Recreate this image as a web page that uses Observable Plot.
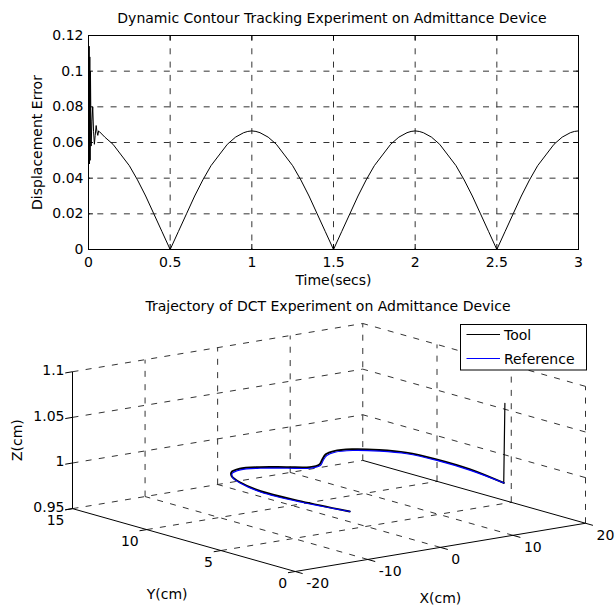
<!DOCTYPE html>
<html><head><meta charset="utf-8">
<script src="https://cdn.jsdelivr.net/npm/d3@7"></script>
<script src="https://cdn.jsdelivr.net/npm/@observablehq/plot@0.6"></script>
<style>
html,body{margin:0;padding:0;background:#fff;}
#wrap{position:relative;width:615px;height:608px;font-family:"DejaVu Sans";}
#wrap svg{display:block;}
</style></head><body><div id="wrap"></div>
<script>
// ---------- Top chart data ----------
const topTitle = "Dynamic Contour Tracking Experiment on Admittance Device";
const topXLabel = "Time(secs)";
const topYLabel = "Displacement Error";
const timeTicks = [0, 0.5, 1, 1.5, 2, 2.5, 3];
const timeTickLabels = ["0", "0.5", "1", "1.5", "2", "2.5", "3"];
const errTicks = [0, 0.02, 0.04, 0.06, 0.08, 0.1, 0.12];
const errTickLabels = ["0", "0.02", "0.04", "0.06", "0.08", "0.1", "0.12"];

const timeSec = [0, 0.002, 0.004, 0.006, 0.008, 0.010, 0.012, 0.016, 0.021, 0.026, 0.031, 0.036, 0.041, 0.047, 0.052, 0.057, 0.062, 0.068,
  0.1, 0.15, 0.2, 0.25, 0.3, 0.35, 0.4, 0.45, 0.5, 0.55, 0.6, 0.65, 0.7, 0.75, 0.8, 0.85, 0.9, 0.95, 0.975,
  1.0, 1.025, 1.05, 1.1, 1.15, 1.2, 1.25, 1.3, 1.35, 1.4, 1.45, 1.5, 1.55, 1.6, 1.65, 1.7, 1.75, 1.8, 1.85, 1.9, 1.95, 1.975,
  2.0, 2.025, 2.05, 2.1, 2.15, 2.2, 2.25, 2.3, 2.35, 2.4, 2.45, 2.5, 2.55, 2.6, 2.65, 2.7, 2.75, 2.8, 2.85, 2.9, 2.95, 2.975, 3.0];
const dispErr = [0.118, 0.049, 0.114, 0.048, 0.108, 0.050, 0.100, 0.058, 0.072, 0.080, 0.066, 0.059, 0.064, 0.0695, 0.066, 0.064, 0.0665, 0.066,
  0.063, 0.059, 0.053, 0.047, 0.039, 0.030, 0.020, 0.010, 0.000, 0.010, 0.020, 0.030, 0.039, 0.047, 0.053, 0.059, 0.063, 0.0655, 0.0662,
  0.0665, 0.0662, 0.0655, 0.063, 0.059, 0.053, 0.047, 0.039, 0.030, 0.020, 0.010, 0.000, 0.010, 0.020, 0.030, 0.039, 0.047, 0.053, 0.059, 0.063, 0.0655, 0.0662,
  0.0665, 0.0662, 0.0655, 0.063, 0.059, 0.053, 0.047, 0.039, 0.030, 0.020, 0.010, 0.000, 0.010, 0.020, 0.030, 0.039, 0.047, 0.053, 0.059, 0.063, 0.0655, 0.0662, 0.0665];

// ---------- Bottom chart data ----------
const botTitle = "Trajectory of DCT Experiment on Admittance Device";
const seriesNames = ["Tool", "Reference"];
const seriesColors = ["#000000", "#0000ff"];
const xAxisLabel = "X(cm)", yAxisLabel = "Y(cm)", zAxisLabel = "Z(cm)";
const xLim = [-20, 20], yLim = [0, 15], zLim = [0.95, 1.1];
const xTicks3 = [-20, -10, 0, 10, 20];
const xTickLabels3 = ["-20", "-10", "0", "10", "20"];
const yTicks3 = [0, 5, 10, 15];
const yTickLabels3 = ["0", "5", "10", "15"];
const zTicks3 = [0.95, 1, 1.05, 1.1];
const zTickLabels3 = ["0.95", "1", "1.05", "1.1"];

const refX = [11.27, 12.24, 12.40, 11.83, 10.30, 8.17, 6.09, 4.36, 2.52, 0.73, -0.96, -2.98, -5.30, -7.53, -9.29, -10.50, -11.70, -12.62, -12.19, -10.83];
const refY = [1.22, 3.96, 6.30, 8.05, 9.11, 9.89, 10.08, 9.78, 9.12, 8.44, 8.28, 8.86, 9.52, 9.78, 9.47, 8.87, 7.71, 5.90, 3.39, 0.79];
const refZ = [1, 1, 1, 1, 1, 1, 1, 1, 1, 1, 1, 1, 1, 1, 1, 1, 1, 1, 1, 1];

const toolX = [11.45, 11.27, 12.26, 12.42, 11.85, 10.31, 8.17, 6.08, 4.34, 2.49, 0.71, -0.97, -2.99, -5.31, -7.54, -9.31, -10.52, -11.72, -12.64, -12.21, -10.85];
const toolY = [1.25, 1.24, 3.98, 6.33, 8.09, 9.16, 9.94, 10.13, 9.84, 9.17, 8.49, 8.32, 8.91, 9.57, 9.83, 9.52, 8.91, 7.74, 5.92, 3.40, 0.80];
const toolZ = [1.087, 1.0, 1.001, 1.001, 1.001, 1.001, 1.001, 1.001, 1.001, 1.001, 1.001, 1.001, 1.001, 1.001, 1.001, 1.001, 1.001, 1.001, 1.001, 1.001, 1.0];

// view (MATLAB-like azimuth / elevation, orthographic)
const viewAz = -37.5, viewEl = 12.5, zAspect = 0.383;

const wrap = document.getElementById("wrap");
const FONT = "DejaVu Sans";
const dash = "6,7.3";
const gridColor = "#333";

// ---------- Top chart ----------
const errRows = timeSec.map((t, i) => ({t, e: dispErr[i]}));
const topPlot = Plot.plot({
  width: 615, height: 290,
  marginLeft: 88, marginRight: 37, marginTop: 35, marginBottom: 41,
  style: {fontFamily: FONT, fontSize: "14px", color: "#000", background: "#fff", overflow: "visible"},
  x: {domain: [0, 3], ticks: timeTicks, tickFormat: d => timeTickLabels[timeTicks.indexOf(d)], tickSize: 0, tickPadding: 8, label: null},
  y: {domain: [0, 0.12], ticks: errTicks, tickFormat: d => errTickLabels[errTicks.indexOf(d)], tickSize: 0, tickPadding: 5, label: null},
  marks: [
    Plot.ruleX(timeTicks.slice(1, -1), {stroke: gridColor, strokeDasharray: dash}),
    Plot.ruleY(errTicks.slice(1, -1), {stroke: gridColor, strokeDasharray: dash, strokeDashoffset: 4}),
    Plot.ruleX(timeTicks, {y1: () => 0, y2: () => 0.0028, stroke: "#000"}),
    Plot.ruleX(timeTicks, {y1: () => 0.1172, y2: () => 0.12, stroke: "#000"}),
    Plot.ruleY(errTicks, {x1: () => 0, x2: () => 0.03, stroke: "#000"}),
    Plot.ruleY(errTicks, {x1: () => 2.97, x2: () => 3, stroke: "#000"}),
    Plot.line(errRows, {x: "t", y: "e", stroke: "#000", strokeWidth: 1}),
    Plot.frame({stroke: "#000"}),
    Plot.text([topTitle], {text: d => d, frameAnchor: "top", lineAnchor: "middle", textAnchor: "middle", dy: -17, dx: -1.5, fontSize: 14}),
    Plot.text([topXLabel], {text: d => d, frameAnchor: "bottom", lineAnchor: "middle", textAnchor: "middle", dy: 31, fontSize: 14}),
    Plot.text([topYLabel], {text: d => d, frameAnchor: "left", lineAnchor: "middle", textAnchor: "middle", dx: -51, rotate: -90, fontSize: 14})
  ]
});
wrap.appendChild(topPlot);

// ---------- Bottom chart (3-D projection) ----------
const rad = Math.PI / 180;
function proj(X, Y, Z) {
  const a = viewAz * rad, e = viewEl * rad;
  const xn = (X - xLim[0]) / (xLim[1] - xLim[0]);
  const yn = (Y - yLim[0]) / (yLim[1] - yLim[0]);
  const zn = (Z - zLim[0]) / (zLim[1] - zLim[0]) * zAspect;
  return {
    h: Math.cos(a) * xn + Math.sin(a) * yn,
    w: -Math.sin(e) * Math.sin(a) * xn + Math.sin(e) * Math.cos(a) * yn + Math.cos(e) * zn
  };
}
const corners = [];
for (const X of xLim) for (const Y of yLim) for (const Z of zLim) corners.push(proj(X, Y, Z));
const hDom = d3.extent(corners, c => c.h), wDom = d3.extent(corners, c => c.w);

const [x0, x1] = xLim, [y0, y1] = yLim, [z0, z1] = zLim;
const dashed = [];
xTicks3.slice(1, -1).forEach(X => dashed.push([[X, y0, z0], [X, y1, z0]]));        // floor, const X
yTicks3.slice(1).forEach(Y => dashed.push([[x0, Y, z0], [x1, Y, z0]]));            // floor, const Y
xTicks3.slice(1).forEach(X => dashed.push([[X, y1, z0], [X, y1, z1]]));            // back wall verticals
zTicks3.slice(1).forEach(Z => dashed.push([[x0, y1, Z], [x1, y1, Z]]));            // back wall horizontals
yTicks3.slice(0, -1).forEach(Y => dashed.push([[x1, Y, z0], [x1, Y, z1]]));        // side wall verticals
zTicks3.slice(1).forEach(Z => dashed.push([[x1, y0, Z], [x1, y1, Z]]));            // side wall horizontals
const solid = [
  [[x0, y0, z0], [x1, y0, z0]],
  [[x0, y0, z0], [x0, y1, z0]],
  [[x0, y1, z0], [x0, y1, z1]],
  [[x1, y0, z0], [x1, y1, z0]]
];
zTicks3.forEach(Z => solid.push([[x0, y1, Z], [x0 - 1, y1, Z]]));
yTicks3.forEach(Y => solid.push([[x0, Y, z0], [x0 - 1, Y, z0]]));
xTicks3.forEach(X => solid.push([[X, y0, z0], [X, y0 - 0.5, z0]]));

const segOpts = {
  x1: d => proj(...d[0]).h, y1: d => proj(...d[0]).w,
  x2: d => proj(...d[1]).h, y2: d => proj(...d[1]).w
};
const refPts = refX.map((X, i) => proj(X, refY[i], refZ[i]));
const toolPts = toolX.map((X, i) => proj(X, toolY[i], toolZ[i]));

const botPlot = Plot.plot({
  width: 615, height: 318,
  marginLeft: 72, marginRight: 30, marginTop: 33, marginBottom: 37,
  style: {fontFamily: FONT, fontSize: "14px", color: "#000", background: "#fff", overflow: "visible"},
  x: {domain: hDom, axis: null},
  y: {domain: wDom, axis: null},
  marks: [
    Plot.link(dashed, {...segOpts, stroke: gridColor, strokeDasharray: dash}),
    Plot.link(solid, {...segOpts, stroke: "#000"}),
    Plot.line(toolPts.slice(0, 2), {x: "h", y: "w", stroke: seriesColors[0], strokeWidth: 1.2}),
    Plot.line(toolPts.slice(1), {x: "h", y: "w", stroke: seriesColors[0], strokeWidth: 1.9, curve: "catmull-rom"}),
    Plot.line(refPts, {x: "h", y: "w", stroke: seriesColors[1], strokeWidth: 1.1, curve: "catmull-rom"}),
    Plot.text(zTicks3, {x: d => proj(x0, y1, d).h, y: d => proj(x0, y1, d).w, text: d => zTickLabels3[zTicks3.indexOf(d)], textAnchor: "end", dx: -8, dy: -1, fontSize: 14}),
    Plot.text(yTicks3, {x: d => proj(x0, d, z0).h, y: d => proj(x0, d, z0).w, text: d => yTickLabels3[yTicks3.indexOf(d)], textAnchor: "end", dx: -8, dy: 12, fontSize: 14}),
    Plot.text(xTicks3, {x: d => proj(d, y0, z0).h, y: d => proj(d, y0, z0).w, text: d => xTickLabels3[xTicks3.indexOf(d)], textAnchor: "start", dx: 11, dy: 12, fontSize: 14}),
    Plot.text([xAxisLabel], {x: () => proj((x0 + x1) / 2, y0, z0).h, y: () => proj((x0 + x1) / 2, y0, z0).w, text: d => d, dy: 51, fontSize: 14}),
    Plot.text([yAxisLabel], {x: () => proj(x0, (y0 + y1) / 2, z0).h, y: () => proj(x0, (y0 + y1) / 2, z0).w, text: d => d, dx: -16.7, dy: 54.4, fontSize: 14}),
    Plot.text([zAxisLabel], {x: () => proj(x0, y1, (z0 + z1) / 2).h, y: () => proj(x0, y1, (z0 + z1) / 2).w, text: d => d, dx: -54.5, rotate: -90, textAnchor: "middle", lineAnchor: "middle", fontSize: 14}),
    Plot.text([botTitle], {text: d => d, frameAnchor: "top", lineAnchor: "middle", textAnchor: "middle", dy: -17, dx: -1, fontSize: 14})
  ]
});
wrap.appendChild(botPlot);

// ---------- Legend (inside the lower axes) ----------
const leg = d3.select(wrap).append("svg")
  .attr("width", 128).attr("height", 47)
  .style("position", "absolute").style("left", "460px").style("top", "324px")
  .style("font-family", FONT).style("font-size", "14px");
leg.append("rect").attr("x", 0.5).attr("y", 0.5).attr("width", 126).attr("height", 45.5)
  .attr("fill", "#fff").attr("stroke", "#000");
seriesNames.forEach((name, i) => {
  const cy = 10.5 + i * 24;
  leg.append("line").attr("x1", 6.5).attr("x2", 40).attr("y1", cy).attr("y2", cy)
    .attr("stroke", seriesColors[i]).attr("stroke-width", 1);
  leg.append("text").attr("x", 44).attr("y", cy + 5.5).attr("fill", "#000").text(name);
});
</script></body></html>
